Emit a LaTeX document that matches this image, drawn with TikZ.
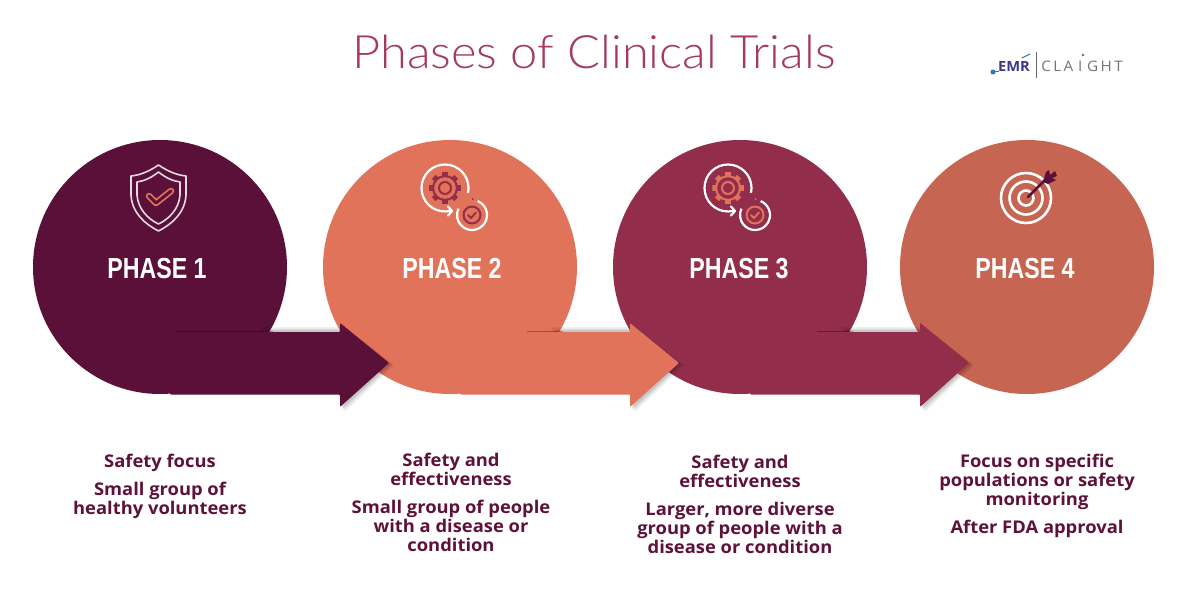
\documentclass[tikz,border=0pt]{standalone}
\usepackage{fontspec}
\setmainfont[FakeStretch=1.05]{Open Sans}
\newfontfamily\phasefont[FakeStretch=0.8]{Liberation Sans}
\newfontfamily\titlefont[FakeStretch=1.06]{Lato Light}
\usetikzlibrary{calc}
\definecolor{cA}{HTML}{5A1038}
\definecolor{cB}{HTML}{E2735B}
\definecolor{cC}{HTML}{922D4B}
\definecolor{cD}{HTML}{C66552}
\definecolor{titlec}{HTML}{A5395F}
\definecolor{bodyc}{HTML}{5E1239}
\definecolor{logoblue}{HTML}{2F77B5}
\tikzset{
  disc/.style={circle,minimum size=254pt,inner sep=0pt,fill=#1},
  phaselabel/.style={text=white,font=\phasefont\bfseries\fontsize{29}{30}\selectfont,inner sep=0pt},
  bodytext/.style={text=bodyc,align=center,anchor=north,inner sep=0pt,font=\bfseries\fontsize{17.5}{18.9}\selectfont},
}
\newcommand{\phasearrow}[3]{%
  \foreach \op/\off in {.06/5,.08/3.5,.10/2}{
    \fill[black,opacity=\op] ($(#1)+(100,65-\off)$) -- ($(#1)+(180,65-\off)$) -- ($(#1)+(180,56)$)
      -- ($(#1)+(229+\off,96+\off/2)$) -- ($(#1)+(180+\off,140+\off)$) -- ($(#1)+(180,96)$) -- cycle;}
  \fill[#2,rounded corners=1pt] ($(#1)+(10,65)$) -- ($(#1)+(180,65)$) -- ($(#1)+(180,56)$)
    -- ($(#1)+(229,96)$) -- ($(#1)+(180,140)$) -- ($(#1)+(180,127.5)$) -- ($(#1)+(10,127.5)$) -- cycle;
  \fill[black,opacity=.3] ($(#1)+(#3,64.2)$) rectangle ($(#1)+(113,65.4)$);
}
\begin{document}
\begin{tikzpicture}[x=1pt,y=-1pt]
\useasboundingbox (0,0) rectangle (1200,600);
\fill[white] (0,0) rectangle (1200,600);

\node[disc=cD] (p4) at (1027,267) {};
\node[disc=cC] (p3) at (740,267) {};
\phasearrow{p3}{cC}{77}
\node[disc=cB] (p2) at (450,267) {};
\phasearrow{p2}{cB}{77}
\node[disc=cA] (p1) at (160,267) {};
\phasearrow{p1}{cA}{15}

\node[text=titlec,inner sep=0pt,font=\titlefont\fontsize{46}{48}\selectfont] (title) at (594,52) {Phases of Clinical Trials};

\node[phaselabel] (l1) at (157,269) {PHASE 1};
\node[phaselabel] (l2) at (452,269) {PHASE 2};
\node[phaselabel] (l3) at (739,269) {PHASE 3};
\node[phaselabel] (l4) at (1025,269) {PHASE 4};

% shield
\draw[white!85!cA,line width=1.6pt,line join=round] (158.5,165) .. controls (148,172) and (140,175) .. (131,176)
  -- (131,195) .. controls (132,213) and (145,224) .. (158.5,231) .. controls (172,224) and (185,213) .. (186,195)
  -- (186,176) .. controls (177,175) and (169,172) .. (158.5,165) -- cycle;
\draw[white!85!cA,line width=1.6pt,line join=round] (158.5,172) .. controls (151,178) and (144,181) .. (137,182)
  -- (137,195) .. controls (138,209) and (148,219) .. (158.5,224) .. controls (169,219) and (179,209) .. (180,195)
  -- (180,182) .. controls (173,181) and (166,178) .. (158.5,172) -- cycle;
\draw[cB,line width=6.5pt,line cap=round,line join=round] (149,196) -- (156,203) -- (171,191);
\draw[cA,line width=3pt,line cap=round,line join=round] (149,196) -- (156,203) -- (171,191);

% cycle icons
\foreach \ox/\bg/\ic in {445/cB/cC,728/cC/cB}{
  \begin{scope}[shift={(\ox,188)}]
    \draw[white,line width=2.2pt] (12:23.5) arc[start angle=12,end angle=-285,radius=23.5];
    \draw[white,line width=2.2pt,line cap=round,line join=round] (3,18.5) -- (7,23) -- (3,27.5);
    \foreach \a in {0,45,...,315}{
      \fill[\ic] (\a-15:11) -- (\a-10:16) -- (\a+10:16) -- (\a+15:11) -- cycle;
    }
    \fill[\ic] (0,0) circle[radius=13];
    \fill[\bg] (0,0) circle[radius=10.8];
    \draw[\ic,line width=2pt] (0,0) circle[radius=6];
    \begin{scope}[shift={(27,27)}]
      \draw[white,line width=2.2pt] (-68:15) arc[start angle=-68,end angle=205,radius=15];
      \fill[\ic] (0,0) circle[radius=9.5];
      \fill[\bg] (0,0) circle[radius=7.3];
      \draw[\ic,line width=1.8pt,line cap=round,line join=round] (-4,0) -- (-1,3) -- (4,-2.5);
      \fill[\ic] (0.5,-16) circle[radius=1];
    \end{scope}
  \end{scope}
}

% target
\draw[white,line width=2.6pt] (1026,198) circle[radius=25];
\draw[white,line width=2.6pt] (1026,198) circle[radius=16.5];
\draw[white,line width=2.6pt] (1026,198) circle[radius=7.5];
\draw[cA,line width=2.6pt,line cap=round] (1028,197) -- (1046,179);
\fill[cA] (1043,182) -- (1046,172) -- (1049,170) -- (1050,175) -- (1055,171) -- (1057,176) -- (1052,178) -- (1056,180) -- (1048,184) -- cycle;

% logo
\node[text=black!45!blue!55!gray,inner sep=0pt,font=\bfseries\fontsize{14}{15}\selectfont] (emr) at (1014,66) {EMR};
\fill[logoblue] (993,72) circle[radius=2.5];
\draw[logoblue,line width=1pt] (995,71) -- (999,71);
\draw[logoblue,line width=1pt,line cap=round] (1022,58) -- (1030,54);
\node[text=black!55,inner sep=0pt,font=\fontsize{14.5}{15}\selectfont] (claight) at (1082,66) {C\,L\,A\,\,I\,\,G\,H\,T};
\draw[black!60,line width=1pt] (1036,52) -- (1036,78);
\fill[logoblue] (1083,55) circle[radius=1.3];

% body text
\node[bodytext] (t1) at (160,454) {Safety focus\\[9pt]Small group of\\healthy volunteers};
\node[bodytext] (t2) at (451,453) {Safety and\\effectiveness\\[9pt]Small group of people\\with a disease or\\condition};
\node[bodytext] (t3) at (740,455) {Safety and\\effectiveness\\[9pt]Larger, more diverse\\group of people with a\\disease or condition};
\node[bodytext] (t4) at (1037,454) {Focus on specific\\populations or safety\\monitoring\\[9pt]After FDA approval};
\end{tikzpicture}
\end{document}
